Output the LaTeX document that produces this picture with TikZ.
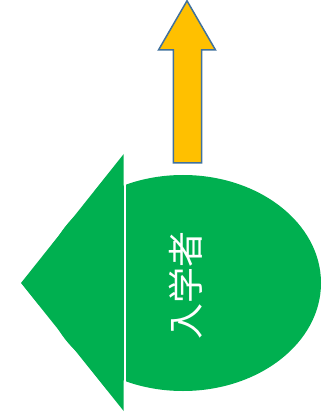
\documentclass[tikz,border=0pt]{standalone}
\usepackage{fontspec}
\newfontfamily\cjk{Noto Sans CJK JP}
\usetikzlibrary{shapes.geometric}
\definecolor{pgreen}{HTML}{00B050}
\definecolor{porange}{HTML}{FFC000}
\definecolor{pblue}{HTML}{41719C}
\tikzset{
  greenshape/.style={fill=pgreen, draw=none},
  uparrow/.style={draw=pblue, fill=porange, line width=1.5pt, line join=miter},
  labeltext/.style={rotate=90, text=white, inner sep=0pt, font=\cjk\fontsize{36}{36}\selectfont}
}
\begin{document}
\begin{tikzpicture}[x=1pt,y=-1pt]
\useasboundingbox (0,0) rectangle (321,419);
% ellipse body
\node[ellipse, greenshape, minimum width=276pt, minimum height=216pt, inner sep=0pt, outer sep=0pt] (body) at (183,283) {};
% white separator gap
\fill[white] (123.5,150) rectangle (126,415);
% left-pointing triangle
\fill[pgreen] (123.7,154) -- (21,283) -- (123.7,411) -- cycle;
% up arrow
\draw[uparrow] (173.3,163) -- (173.3,50) -- (158.5,50) -- (187,0.8) -- (215.5,50) -- (201.7,50) -- (201.7,163) -- cycle;
% label
\node[labeltext] (lbl) at (186,285) {入学者};
\end{tikzpicture}
\end{document}
